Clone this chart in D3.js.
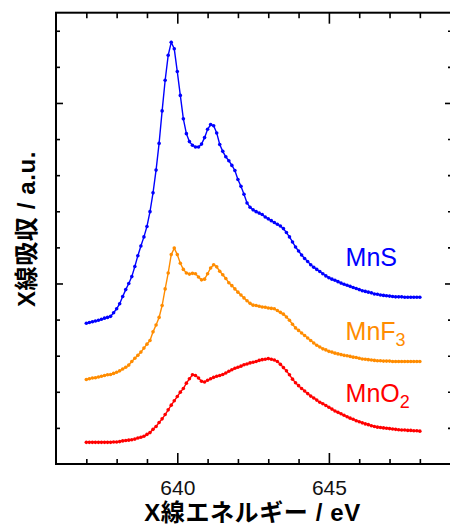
<!DOCTYPE html>
<html>
<head>
<meta charset="utf-8">
<script src="https://cdn.jsdelivr.net/npm/d3@7/dist/d3.min.js"></script>
<style>
  html, body { margin: 0; padding: 0; background: #fff; }
  svg { display: block; }
</style>
</head>
<body>
<div id="chart"></div>
<script>
// energy grid of the spectra (eV), 0.1 eV sampling from 637.0 to 648.0
const energy = d3.range(0, 111).map(i => +(637 + i * 0.1).toFixed(1));

// X-ray absorption, arbitrary units (curves are offset vertically)
const mnS = [3.90,3.92,3.94,3.96,3.98,4.01,4.04,4.06,4.09,4.19,
  4.30,4.44,4.64,4.83,5.00,5.19,5.47,5.77,6.04,6.29,
  6.58,6.99,7.51,8.14,8.88,9.78,10.63,11.32,11.68,11.50,
  10.87,10.21,9.56,9.15,8.93,8.83,8.78,8.78,8.86,9.04,
  9.27,9.40,9.37,9.17,8.85,8.66,8.51,8.40,8.27,8.13,
  7.88,7.69,7.47,7.23,7.11,7.04,6.99,6.95,6.91,6.84,
  6.79,6.74,6.69,6.64,6.59,6.52,6.41,6.29,6.15,6.01,
  5.90,5.79,5.69,5.61,5.52,5.45,5.39,5.33,5.27,5.21,
  5.16,5.12,5.09,5.05,5.01,4.98,4.95,4.92,4.89,4.86,
  4.83,4.80,4.78,4.76,4.74,4.71,4.70,4.68,4.67,4.66,
  4.65,4.64,4.63,4.63,4.63,4.62,4.62,4.62,4.62,4.62,
  4.62];

const mnF3 = [2.34,2.36,2.38,2.39,2.41,2.43,2.45,2.47,2.48,2.51,
  2.54,2.58,2.63,2.68,2.74,2.84,2.93,3.01,3.10,3.21,
  3.32,3.42,3.66,3.85,4.06,4.39,4.85,5.29,5.80,5.98,
  5.80,5.56,5.39,5.29,5.26,5.28,5.27,5.18,5.10,5.12,
  5.27,5.43,5.52,5.46,5.34,5.24,5.14,5.02,4.94,4.85,
  4.76,4.68,4.60,4.52,4.45,4.40,4.39,4.37,4.35,4.34,
  4.32,4.31,4.30,4.25,4.20,4.15,4.07,3.98,3.87,3.77,
  3.70,3.63,3.56,3.49,3.42,3.35,3.29,3.24,3.19,3.16,
  3.12,3.10,3.07,3.05,3.03,3.01,3.00,2.98,2.96,2.95,
  2.93,2.91,2.90,2.89,2.88,2.87,2.86,2.86,2.85,2.85,
  2.85,2.84,2.84,2.84,2.84,2.84,2.84,2.84,2.84,2.84,
  2.84];

const mnO2 = [0.60,0.60,0.60,0.60,0.60,0.60,0.60,0.60,0.60,0.61,
  0.61,0.62,0.64,0.65,0.66,0.67,0.69,0.72,0.74,0.77,
  0.82,0.87,0.96,1.04,1.15,1.25,1.37,1.50,1.63,1.75,
  1.87,1.99,2.09,2.24,2.36,2.47,2.45,2.38,2.29,2.27,
  2.32,2.36,2.40,2.43,2.45,2.48,2.52,2.57,2.61,2.65,
  2.68,2.71,2.75,2.77,2.80,2.82,2.84,2.87,2.89,2.90,
  2.92,2.90,2.88,2.84,2.76,2.67,2.58,2.47,2.35,2.25,
  2.17,2.09,2.02,1.95,1.88,1.83,1.77,1.71,1.67,1.62,
  1.57,1.52,1.47,1.43,1.39,1.35,1.31,1.27,1.24,1.20,
  1.17,1.14,1.11,1.09,1.06,1.04,1.02,1.01,1.00,0.99,
  0.98,0.97,0.96,0.95,0.94,0.94,0.93,0.93,0.92,0.92,
  0.91];

// tick positions
const xMajorTicks = [640, 645];
const xMinorTicks = [637,638,639,641,642,643,644,646,647,648];
const yMajorTicks = [5, 10];
const yMinorTicks = [1,2,3,4,6,7,8,9,11,12];

// series labels: name, subscript, label anchor (eV, a.u.)
const seriesNames = ["MnS", "MnF", "MnO"];
const seriesSubs = ["", "3", "2"];
const labelY = [5.48, 3.43, 1.73];
const labelE = 645.55;
const seriesColors = ["#0000ff", "#ff8c00", "#ff0000"];
const seriesValues = [mnS, mnF3, mnO2];

const width = 450, height = 528;
const margin = {top: 12.7, left: 56, bottom: 64};

const svg = d3.select("#chart").append("svg")
    .attr("width", width)
    .attr("height", height);

// the right frame edge sits just past the picture's right border
const xScale = d3.scaleLinear().domain([636, 649.06]).range([margin.left, 452]);
const yScale = d3.scaleLinear().domain([0, 12.5]).range([height - margin.bottom, margin.top]);

const latin = "'Liberation Sans', Arial, sans-serif";
const mixed = "'Liberation Sans', 'Noto Sans CJK JP', sans-serif";

// helper: draw one set of inward ticks
function ticks(axisFn, scale, values, size, transform, labelled) {
    const ax = axisFn(scale).tickValues(values).tickSize(-size).tickSizeOuter(0);
    if (labelled) ax.tickFormat(d3.format("d")).tickPadding(16);
    else ax.tickFormat("");
    const g = svg.append("g").attr("transform", transform).call(ax);
    g.select(".domain").remove();
    g.selectAll(".tick line").attr("stroke", "#000").attr("stroke-width", 1.6);
    g.selectAll(".tick text")
        .attr("font-family", latin)
        .attr("font-size", "21px")
        .attr("fill", "#111");
    return g;
}

const x0 = margin.left, x1 = xScale.range()[1];
const y0 = yScale.range()[0], y1 = margin.top;

ticks(d3.axisBottom, xScale, xMinorTicks, 5, `translate(0,${y0})`, false);
ticks(d3.axisBottom, xScale, xMajorTicks, 11, `translate(0,${y0})`, true);
ticks(d3.axisTop, xScale, xMinorTicks, 5.5, `translate(0,${y1})`, false);
ticks(d3.axisTop, xScale, xMajorTicks, 11, `translate(0,${y1})`, false);
ticks(d3.axisLeft, yScale, yMinorTicks, 4, `translate(${x0},0)`, false);
ticks(d3.axisLeft, yScale, yMajorTicks, 7, `translate(${x0},0)`, false);
ticks(d3.axisRight, yScale, yMinorTicks, 4, `translate(${x1},0)`, false);
ticks(d3.axisRight, yScale, yMajorTicks, 7, `translate(${x1},0)`, false);

// frame
svg.append("rect")
    .attr("x", x0).attr("y", y1)
    .attr("width", x1 - x0).attr("height", y0 - y1)
    .attr("fill", "none")
    .attr("stroke", "#000")
    .attr("stroke-width", 2);

// spectra
const line = d3.line()
    .x((d, i) => xScale(energy[i]))
    .y(d => yScale(d));

seriesValues.forEach((vals, s) => {
    const g = svg.append("g").attr("class", "series");
    g.append("path")
        .datum(vals)
        .attr("d", line)
        .attr("fill", "none")
        .attr("stroke", seriesColors[s])
        .attr("stroke-width", 1.4);
    g.selectAll("circle")
        .data(vals)
        .join("circle")
        .attr("cx", (d, i) => xScale(energy[i]))
        .attr("cy", d => yScale(d))
        .attr("r", 1.8)
        .attr("fill", seriesColors[s]);

    const t = g.append("text")
        .attr("x", xScale(labelE))
        .attr("y", yScale(labelY[s]))
        .attr("font-family", latin)
        .attr("font-size", "25px")
        .attr("fill", seriesColors[s])
        .text(seriesNames[s]);
    if (seriesSubs[s]) {
        t.append("tspan")
            .attr("dy", 6)
            .attr("font-size", "18px")
            .text(seriesSubs[s]);
    }
});

// axis titles
svg.append("text")
    .attr("x", 252.5)
    .attr("y", 521)
    .attr("text-anchor", "middle")
    .attr("font-family", mixed)
    .attr("font-weight", "bold")
    .attr("font-size", "24px")
    .attr("letter-spacing", "0.6px")
    .attr("fill", "#000")
    .text("X線エネルギー / eV");

svg.append("text")
    .attr("transform", "rotate(-90)")
    .attr("x", -229)
    .attr("y", 35)
    .attr("text-anchor", "middle")
    .attr("font-family", mixed)
    .attr("font-weight", "bold")
    .attr("font-size", "24px")
    .attr("letter-spacing", "0.6px")
    .attr("fill", "#000")
    .text("X線吸収 / a.u.");
</script>
</body>
</html>
